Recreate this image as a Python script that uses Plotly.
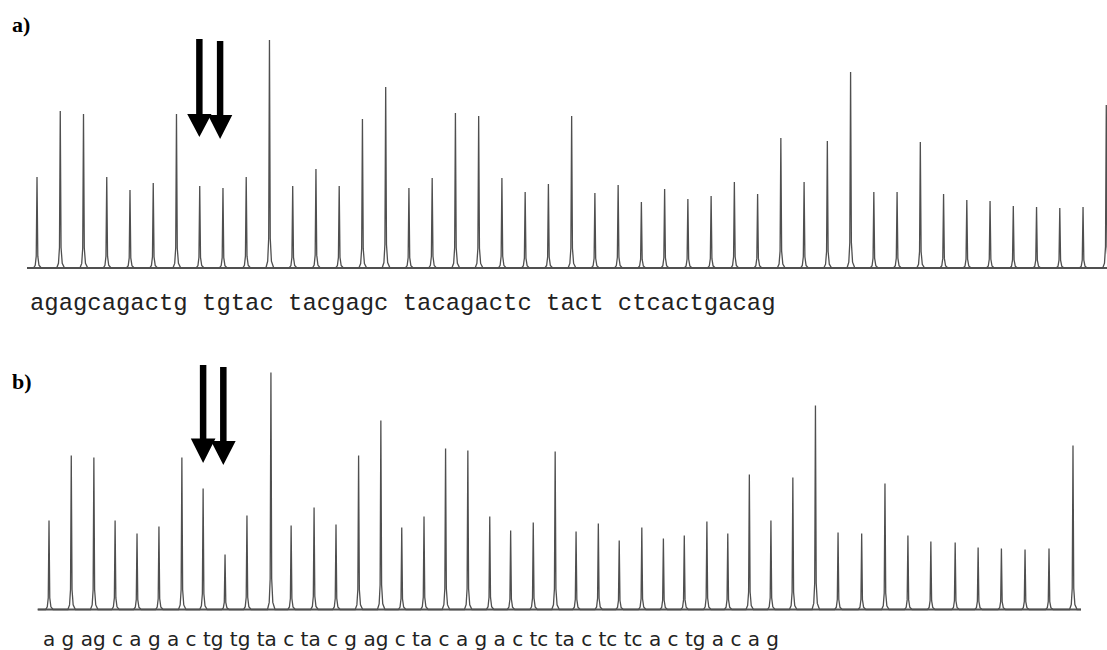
import plotly.graph_objects as go

# ---------------- data ----------------
# panel a) dispensation times (s) and peak heights (light units)
a_time = [60, 125, 190, 255, 320, 385, 450, 515, 580, 645, 710, 775, 840, 905, 970, 1035,
          1100, 1165, 1230, 1295, 1360, 1425, 1490, 1555, 1620, 1685, 1750, 1815, 1880,
          1945, 2010, 2075, 2140, 2205, 2270, 2335, 2400, 2465, 2530, 2595, 2660, 2725,
          2790, 2855, 2920, 2985, 3050]
a_height = [91, 157, 154, 91, 78, 85, 154, 82, 80, 91, 228, 82, 99, 82, 149, 181,
            80, 90, 155, 152, 90, 76, 84, 152, 75, 83, 66, 79, 69, 72, 86, 74,
            130, 86, 127, 196, 76, 76, 126, 74, 68, 67, 62, 61, 60, 61, 163]

# panel b)
b_time = [60, 125, 191, 253, 317, 381, 448, 510, 574, 638, 708, 767, 834, 898, 964, 1029,
          1090, 1155, 1218, 1283, 1347, 1408, 1474, 1538, 1599, 1664, 1725, 1791, 1854,
          1915, 1981, 2042, 2105, 2168, 2232, 2298, 2364, 2433, 2501, 2568, 2635, 2706,
          2773, 2841, 2910, 2980, 3050]
b_height = [89, 154, 152, 89, 76, 83, 152, 121, 55, 94, 237, 84, 102, 85, 154, 189,
            82, 93, 161, 159, 93, 79, 87, 158, 78, 86, 69, 82, 71, 74, 88, 76,
            135, 89, 132, 204, 77, 76, 126, 74, 68, 67, 62, 61, 60, 61, 164]

# arrow targets (time) for each panel
a_arrows = [514, 572]
b_arrows = [510, 569]

seq_a = "agagcagactg tgtac tacgagc tacagactc tact ctcactgacag"
seq_b = ("a g ag c a g a c tg tg ta c ta c g ag c ta c a g a c tc ta c "
         "tc tc a c tg a c a g")
panel_labels = ["a)", "b)"]

# ---------------- styling ----------------
W, H = 1107, 650
LINE = "#4f4f4f"
# peak profile template (offset in s, fraction of peak height)
PK_DX = [-10, -5, -2.2, 0, 2.2, 5.5, 12]
PK_FR = [0, 0.03, 0.13, 1, 0.13, 0.03, 0]


def trace_xy(times, heights, x0, x1):
    xs, ys = [x0], [0]
    for t, h in zip(times, heights):
        for dx, fr in zip(PK_DX, PK_FR):
            xs.append(t + dx)
            ys.append(fr * h)
    xs.append(x1)
    ys.append(0)
    return xs, ys


def py(px):
    return (H - px) / H


def px_(px):
    return px / W


# axis layouts
a_xr = [32, 3052]
b_xr = [26.4, 3073.4]
a_yr = [-4, 248]
b_yr = [-4, 264.5]

fig = go.Figure()
for (xr, xref, yref) in [(a_xr, "x", "y"), (b_xr, "x2", "y2")]:
    fig.add_trace(go.Scatter(x=[xr[0], xr[1]], y=[0, 0], mode="lines", xaxis=xref, yaxis=yref,
                             line=dict(color="#555555", width=2.2), hoverinfo="skip",
                             showlegend=False))
xa, ya = trace_xy(a_time, a_height, a_xr[0], a_xr[1])
xb, yb = trace_xy(b_time, b_height, b_xr[0], b_xr[1])
fig.add_trace(go.Scatter(x=xa, y=ya, mode="lines", xaxis="x", yaxis="y",
                         line=dict(color=LINE, width=1.3), hoverinfo="skip",
                         showlegend=False))
fig.add_trace(go.Scatter(x=xb, y=yb, mode="lines", xaxis="x2", yaxis="y2",
                         line=dict(color=LINE, width=1.3), hoverinfo="skip",
                         showlegend=False))

hidden = dict(visible=False, showgrid=False, zeroline=False, fixedrange=True)
fig.update_layout(
    width=W, height=H, autosize=False,
    margin=dict(l=0, r=0, t=0, b=0),
    paper_bgcolor="white", plot_bgcolor="white",
    xaxis=dict(domain=[px_(27), 1.0], range=a_xr, anchor="y", **hidden),
    yaxis=dict(domain=[py(272), py(20)], range=a_yr, anchor="x", **hidden),
    xaxis2=dict(domain=[px_(37.5), px_(1081)], range=b_xr, anchor="y2", **hidden),
    yaxis2=dict(domain=[py(613.5), py(345)], range=b_yr, anchor="x2", **hidden),
)


def arrow_path(x, top, head_top, tip, shaft_hw, head_hw):
    return (f"M {x - shaft_hw},{top} L {x + shaft_hw},{top} L {x + shaft_hw},{head_top} "
            f"L {x + head_hw},{head_top} L {x},{tip} L {x - head_hw},{head_top} "
            f"L {x - shaft_hw},{head_top} Z")


shapes = []
for x, (top, hd, tip) in zip(a_arrows, [(229, 154, 131), (227, 153, 129)]):
    shapes.append(dict(type="path", xref="x", yref="y",
                       path=arrow_path(x, top, hd, tip, 9.0, 34),
                       fillcolor="black", line=dict(width=0)))
for x, (top, hd, tip) in zip(b_arrows, [(244.5, 171, 146.5), (242.5, 168.5, 144.5)]):
    shapes.append(dict(type="path", xref="x2", yref="y2",
                       path=arrow_path(x, top, hd, tip, 9.5, 36),
                       fillcolor="black", line=dict(width=0)))
fig.update_layout(shapes=shapes)

annotations = [
    dict(text=seq_a, xref="paper", yref="paper", x=px_(28), y=py(303),
         xanchor="left", yanchor="middle", showarrow=False,
         font=dict(family="Liberation Mono, Courier New, monospace", size=23.9, color="#222222")),
    dict(text=seq_b, xref="paper", yref="paper", x=px_(41), y=py(639),
         xanchor="left", yanchor="middle", showarrow=False,
         font=dict(family="DejaVu Sans, sans-serif", size=20, color="#222222")),
    dict(text=f"<b>{panel_labels[0]}</b>", xref="paper", yref="paper", x=px_(10), y=py(25),
         xanchor="left", yanchor="middle", showarrow=False,
         font=dict(family="Liberation Serif, Times New Roman, serif", size=22, color="black")),
    dict(text=f"<b>{panel_labels[1]}</b>", xref="paper", yref="paper", x=px_(10), y=py(381),
         xanchor="left", yanchor="middle", showarrow=False,
         font=dict(family="Liberation Serif, Times New Roman, serif", size=22, color="black")),
]
fig.update_layout(annotations=annotations)

fig.write_html("out.html", config={"displayModeBar": False},
               post_script="document.body.style.margin='0';document.body.style.overflow='hidden';")
